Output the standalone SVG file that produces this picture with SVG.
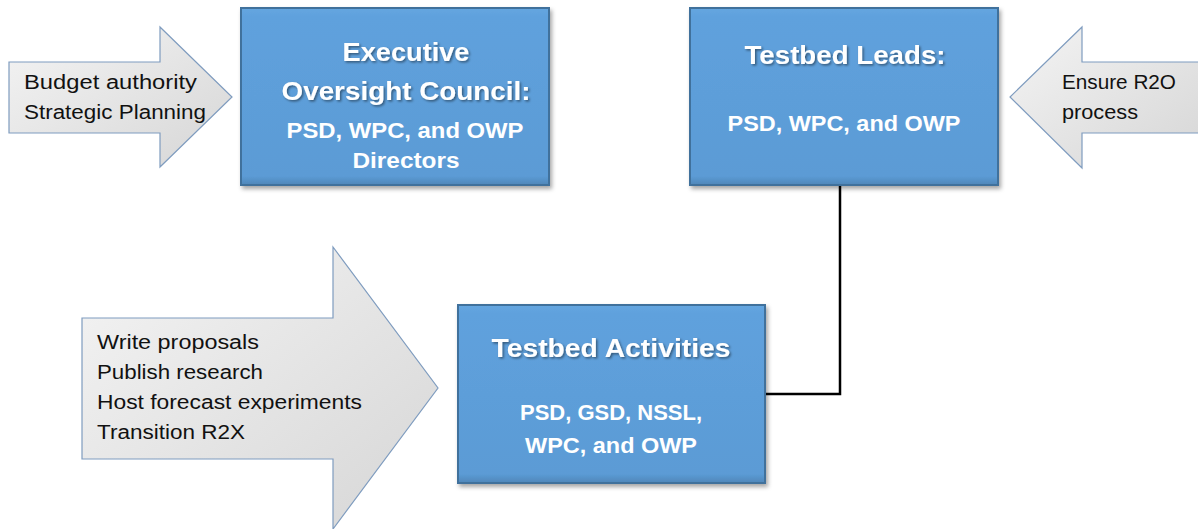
<svg xmlns="http://www.w3.org/2000/svg" width="1198" height="529" viewBox="0 0 1198 529">
<defs>
<linearGradient id="arrowGrad" x1="0" y1="0" x2="1" y2="1">
<stop offset="0" stop-color="#f4f4f4"/>
<stop offset="1" stop-color="#d6d6d6"/>
</linearGradient>
<linearGradient id="boxGrad" x1="0" y1="0" x2="0" y2="1">
<stop offset="0" stop-color="#66a6e0"/>
<stop offset="0.05" stop-color="#5fa1dd"/>
<stop offset="0.95" stop-color="#5b9bd5"/>
<stop offset="1" stop-color="#4f86b8"/>
</linearGradient>
<filter id="boxShadow" x="-10%" y="-10%" width="125%" height="125%">
<feDropShadow dx="2" dy="3" stdDeviation="2" flood-color="#000" flood-opacity="0.35"/>
</filter>
<filter id="textShadow" x="-5%" y="-20%" width="115%" height="150%">
<feDropShadow dx="1.5" dy="1.5" stdDeviation="1" flood-color="#000" flood-opacity="0.45"/>
</filter>
</defs>
<style>
.box { fill: url(#boxGrad); stroke: #41719c; stroke-width: 2; filter: url(#boxShadow); }
.arrow { fill: url(#arrowGrad); stroke: #7f9cbf; stroke-width: 1.2; }
.title { font-family: "Liberation Sans", Arial, sans-serif; font-weight: bold; font-size: 26px; fill: #ffffff; text-anchor: middle; filter: url(#textShadow); }
.sub { font-family: "Liberation Sans", Arial, sans-serif; font-weight: bold; font-size: 22px; fill: #ffffff; text-anchor: middle; }
.label { font-family: "Liberation Sans", Arial, sans-serif; font-size: 20px; fill: #111111; }
.conn { fill: none; stroke: #000000; stroke-width: 2.5; }
</style>
<rect width="1198" height="529" fill="#ffffff"/>

<g id="arrow-budget">
<polygon class="arrow" points="9,62 160,62 160,27 232,97 160,167 160,133 9,133"/>
<text class="label" x="24" y="89" textLength="173" lengthAdjust="spacingAndGlyphs">Budget authority</text>
<text class="label" x="24" y="119" textLength="182" lengthAdjust="spacingAndGlyphs">Strategic Planning</text>
</g>

<g id="arrow-r2o">
<polygon class="arrow" points="1199,62 1082,62 1082,27 1010,97 1082,168 1082,133 1199,133"/>
<text class="label" x="1062" y="89" textLength="114" lengthAdjust="spacingAndGlyphs">Ensure R2O</text>
<text class="label" x="1062" y="119" textLength="76" lengthAdjust="spacingAndGlyphs">process</text>
</g>

<g id="arrow-activities">
<polygon class="arrow" points="82,318 333,318 333,247 438,388 333,529 333,459 82,459"/>
<text class="label" x="97" y="349" textLength="162" lengthAdjust="spacingAndGlyphs">Write proposals</text>
<text class="label" x="97" y="379" textLength="166" lengthAdjust="spacingAndGlyphs">Publish research</text>
<text class="label" x="97" y="409" textLength="265" lengthAdjust="spacingAndGlyphs">Host forecast experiments</text>
<text class="label" x="97" y="439" textLength="148" lengthAdjust="spacingAndGlyphs">Transition R2X</text>
</g>

<g id="connectors">
<polyline class="conn" points="840,185 840,394 765,394"/>
</g>

<g id="node-executive">
<rect class="box" x="241" y="8" width="308" height="177"/>
<text class="title" x="406" y="61" textLength="127" lengthAdjust="spacingAndGlyphs">Executive</text>
<text class="title" x="406" y="100" textLength="249" lengthAdjust="spacingAndGlyphs">Oversight Council:</text>
<text class="sub" x="405" y="138" textLength="237" lengthAdjust="spacingAndGlyphs">PSD, WPC, and OWP</text>
<text class="sub" x="406" y="168" textLength="107" lengthAdjust="spacingAndGlyphs">Directors</text>
</g>

<g id="node-leads">
<rect class="box" x="690" y="8" width="308" height="177"/>
<text class="title" x="845" y="64" textLength="201" lengthAdjust="spacingAndGlyphs">Testbed Leads:</text>
<text class="sub" x="844" y="131" textLength="233" lengthAdjust="spacingAndGlyphs">PSD, WPC, and OWP</text>
</g>

<g id="node-activities">
<rect class="box" x="458" y="305" width="307" height="178"/>
<text class="title" x="611" y="357" textLength="239" lengthAdjust="spacingAndGlyphs">Testbed Activities</text>
<text class="sub" x="611" y="420" textLength="182" lengthAdjust="spacingAndGlyphs">PSD, GSD, NSSL,</text>
<text class="sub" x="611" y="453" textLength="172" lengthAdjust="spacingAndGlyphs">WPC, and OWP</text>
</g>
</svg>
